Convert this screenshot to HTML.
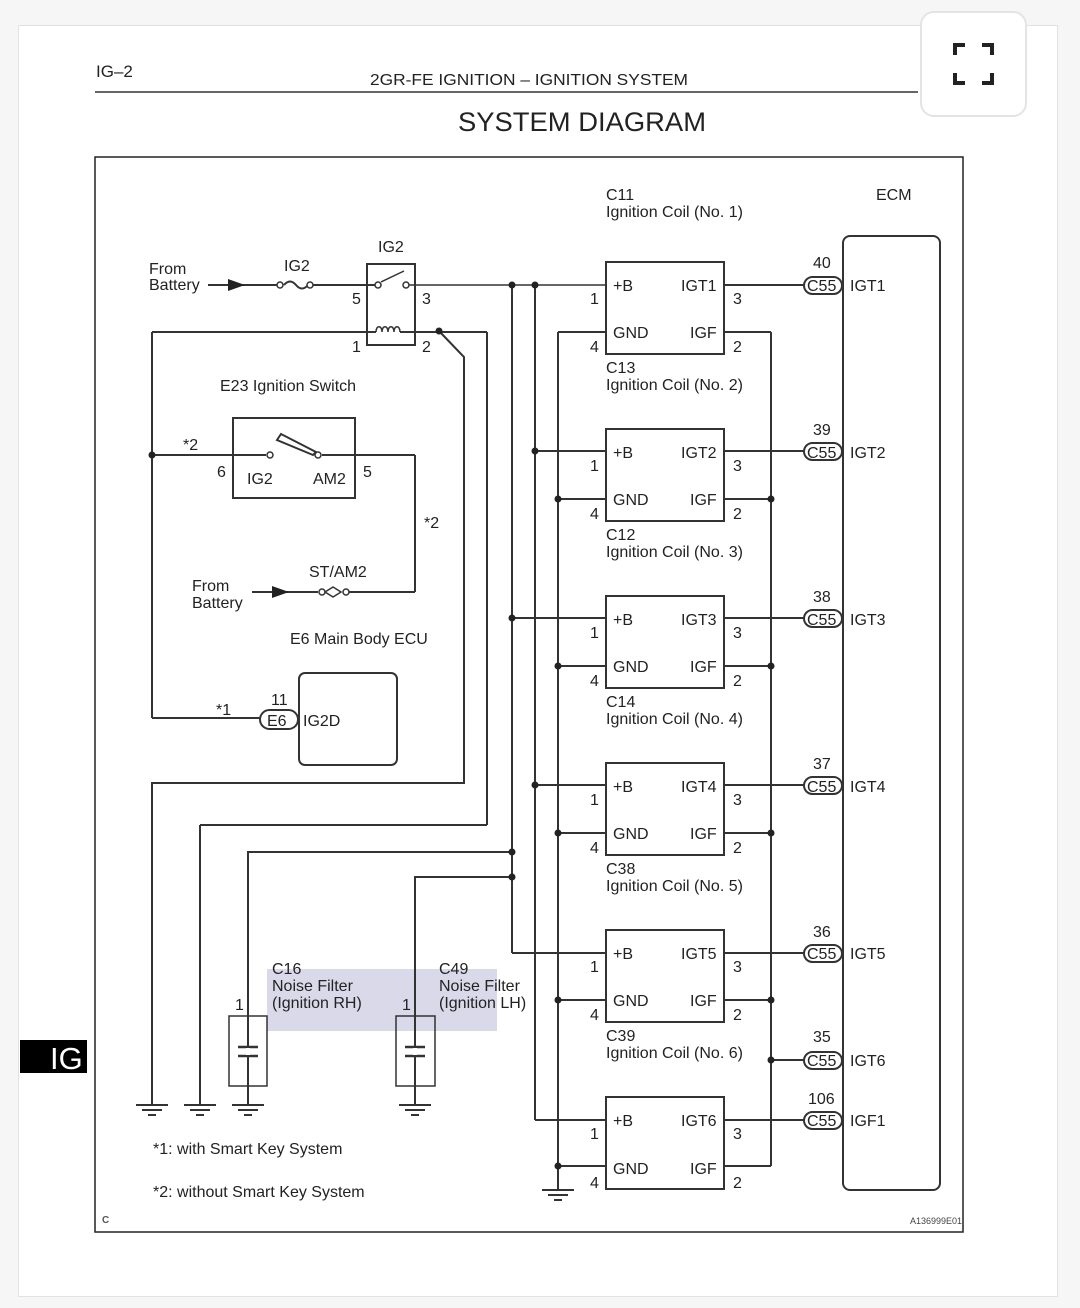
<!DOCTYPE html>
<html><head><meta charset="utf-8"><style>
html,body{margin:0;padding:0;background:#f6f6f7;}
body{width:1080px;height:1308px;position:relative;overflow:hidden;font-family:"Liberation Sans",sans-serif;}
.card{position:absolute;left:18px;top:25px;width:1040px;height:1272px;background:#fff;border:1px solid #e2e2e2;box-sizing:border-box;}
.btn{position:absolute;left:920px;top:11px;width:107px;height:106px;background:#fff;border:2px solid #e4e4e4;border-radius:14px;box-sizing:border-box;}
svg text{font-family:"Liberation Sans",sans-serif;fill:#222;}
</style></head><body>
<div class="card"></div>
<div class="btn"></div>
<svg width="1080" height="1308" style="position:absolute;left:0;top:0">
<g fill="none" stroke="#222" stroke-width="4">
<path d="M955 55V45H965"/><path d="M982 45H992V55"/><path d="M955 73V83H965"/><path d="M982 83H992V73"/>
</g>
<text x="96" y="77" font-size="17">IG–2</text>
<text x="370" y="85" font-size="16" textLength="318" lengthAdjust="spacingAndGlyphs">2GR-FE IGNITION  –  IGNITION SYSTEM</text>
<line x1="95" y1="92" x2="918" y2="92" stroke="#333" stroke-width="1.5"/>
<text x="458" y="131" font-size="27" textLength="248" lengthAdjust="spacingAndGlyphs">SYSTEM DIAGRAM</text>
<rect x="20" y="1040" width="67" height="33" fill="#000"/>
<text x="50" y="1069" font-size="31" style="fill:#fff">IG</text>
<rect x="95" y="157" width="868" height="1075" fill="none" stroke="#222" stroke-width="1.5"/>
<text x="102" y="1223" font-size="10" font-weight="bold" style="fill:#555">C</text>
<text x="910" y="1224" font-size="9" style="fill:#444">A136999E01</text>
<rect x="267" y="969" width="230" height="62" fill="#d9d9ea"/>

<g fill="none" stroke="#333" stroke-width="2">
<line x1="208" y1="285" x2="245" y2="285"/>
<line x1="245" y1="285" x2="277" y2="285"/>
<path d="M284 285q6-7 12 0t12 0" />
<line x1="313" y1="285" x2="375" y2="285"/>
<line x1="409" y1="285" x2="606" y2="285" stroke-width="1.5"/>
<rect x="367" y="264" width="48" height="81"/>
<line x1="381" y1="282" x2="404" y2="271" stroke-width="1.5"/>
<line x1="152" y1="332" x2="376" y2="332"/>
<path d="M376 332c0-7 6-7 6 0c0-7 6-7 6 0c0-7 6-7 6 0c0-7 6-7 6 0" stroke-width="1.5"/>
<line x1="400" y1="332" x2="487" y2="332"/>
<line x1="487" y1="332" x2="487" y2="825"/>
<line x1="487" y1="825" x2="200" y2="825"/>
<line x1="200" y1="825" x2="200" y2="1105"/>
<polyline points="439,331 464,357 464,783 152,783 152,1105"/>
<line x1="152" y1="332" x2="152" y2="718"/>
<line x1="152" y1="718" x2="260" y2="718"/>
<rect x="233" y="418" width="122" height="80"/>
<line x1="152" y1="455" x2="266" y2="455"/>
<line x1="322" y1="455" x2="415" y2="455"/>
<line x1="415" y1="455" x2="415" y2="592"/>
<line x1="415" y1="592" x2="346" y2="592"/>
<line x1="318" y1="592" x2="252" y2="592"/>
<path d="M325 592l8-5l8 5l-8 5z" stroke-width="1.5"/>
<rect x="299" y="673" width="98" height="92" rx="6"/>
<rect x="260" y="710" width="38" height="19" rx="9.5"/>
<line x1="512" y1="285" x2="512" y2="953"/>
<line x1="512" y1="953" x2="606" y2="953"/>
<line x1="535" y1="285" x2="535" y2="1120"/>
<line x1="535" y1="1120" x2="606" y2="1120"/>
<line x1="535" y1="451" x2="606" y2="451"/>
<line x1="512" y1="618" x2="606" y2="618"/>
<line x1="535" y1="785" x2="606" y2="785"/>
<line x1="558" y1="332" x2="558" y2="1190"/>
<line x1="558" y1="332" x2="606" y2="332"/>
<line x1="558" y1="499" x2="606" y2="499"/>
<line x1="558" y1="666" x2="606" y2="666"/>
<line x1="558" y1="833" x2="606" y2="833"/>
<line x1="558" y1="1000" x2="606" y2="1000"/>
<line x1="558" y1="1166" x2="606" y2="1166"/>
<line x1="771" y1="332" x2="771" y2="1166"/>
<line x1="724" y1="332" x2="771" y2="332"/>
<line x1="724" y1="499" x2="771" y2="499"/>
<line x1="724" y1="666" x2="771" y2="666"/>
<line x1="724" y1="833" x2="771" y2="833"/>
<line x1="724" y1="1000" x2="771" y2="1000"/>
<line x1="724" y1="1166" x2="771" y2="1166"/>
<line x1="771" y1="1060" x2="804" y2="1060"/>
<line x1="724" y1="285" x2="804" y2="285"/>
<line x1="724" y1="451" x2="804" y2="451"/>
<line x1="724" y1="618" x2="804" y2="618"/>
<line x1="724" y1="785" x2="804" y2="785"/>
<line x1="724" y1="953" x2="804" y2="953"/>
<line x1="724" y1="1120" x2="804" y2="1120"/>
<polyline points="512,852 248,852 248,1105"/>
<polyline points="512,877 415,877 415,1105"/>
<rect x="229" y="1016" width="38" height="70" stroke-width="1.5"/>
<rect x="396" y="1016" width="39" height="70" stroke-width="1.5"/>
<rect x="606" y="262" width="118" height="92"/>
<rect x="606" y="429" width="118" height="92"/>
<rect x="606" y="596" width="118" height="92"/>
<rect x="606" y="763" width="118" height="92"/>
<rect x="606" y="930" width="118" height="92"/>
<rect x="606" y="1097" width="118" height="92"/>
<rect x="843" y="236" width="97" height="954" rx="7"/>
<rect x="804" y="277" width="38" height="17" rx="8.5"/>
<rect x="804" y="443" width="38" height="17" rx="8.5"/>
<rect x="804" y="610" width="38" height="17" rx="8.5"/>
<rect x="804" y="777" width="38" height="17" rx="8.5"/>
<rect x="804" y="945" width="38" height="17" rx="8.5"/>
<rect x="804" y="1052" width="38" height="17" rx="8.5"/>
<rect x="804" y="1112" width="38" height="17" rx="8.5"/>
</g>
<g stroke="#333" stroke-width="2.5">
<line x1="238" y1="1047" x2="258" y2="1047"/><line x1="238" y1="1056" x2="258" y2="1056"/>
<line x1="405" y1="1047" x2="425" y2="1047"/><line x1="405" y1="1056" x2="425" y2="1056"/>
</g>
<rect x="246" y="1048" width="4" height="7" fill="#fff"/>
<rect x="413" y="1048" width="4" height="7" fill="#fff"/>
<g stroke="#333" stroke-width="2">
<g><line x1="136" y1="1105" x2="168" y2="1105"/><line x1="142" y1="1110" x2="162" y2="1110"/><line x1="148" y1="1115" x2="156" y2="1115"/></g>
<g transform="translate(48 0)"><line x1="136" y1="1105" x2="168" y2="1105"/><line x1="142" y1="1110" x2="162" y2="1110"/><line x1="148" y1="1115" x2="156" y2="1115"/></g>
<g transform="translate(96 0)"><line x1="136" y1="1105" x2="168" y2="1105"/><line x1="142" y1="1110" x2="162" y2="1110"/><line x1="148" y1="1115" x2="156" y2="1115"/></g>
<g transform="translate(263 0)"><line x1="136" y1="1105" x2="168" y2="1105"/><line x1="142" y1="1110" x2="162" y2="1110"/><line x1="148" y1="1115" x2="156" y2="1115"/></g>
<g transform="translate(406 85)"><line x1="136" y1="1105" x2="168" y2="1105"/><line x1="142" y1="1110" x2="162" y2="1110"/><line x1="148" y1="1115" x2="156" y2="1115"/></g>
</g>
<path d="M228 279L245 285L228 291z" fill="#222"/>
<path d="M272 586L289 592L272 598z" fill="#222"/>
<g fill="#fff" stroke="#333" stroke-width="1.5">
<circle cx="280" cy="285" r="3"/><circle cx="310" cy="285" r="3"/>
<circle cx="378" cy="285" r="3"/><circle cx="406" cy="285" r="3"/>
<circle cx="270" cy="455" r="3"/><circle cx="318" cy="455" r="3"/>
<circle cx="322" cy="592" r="3"/><circle cx="346" cy="592" r="3"/>
</g>
<path d="M277 440L281 434L316 452L313 455z" fill="#fff" stroke="#333" stroke-width="2"/>
<g fill="#222">
<circle cx="512" cy="285" r="3.5"/><circle cx="535" cy="285" r="3.5"/>
<circle cx="439" cy="331" r="3.5"/><circle cx="152" cy="455" r="3.5"/>
<circle cx="535" cy="451" r="3.5"/><circle cx="512" cy="618" r="3.5"/><circle cx="535" cy="785" r="3.5"/>
<circle cx="512" cy="852" r="3.5"/><circle cx="512" cy="877" r="3.5"/>
<circle cx="558" cy="499" r="3.5"/><circle cx="558" cy="666" r="3.5"/><circle cx="558" cy="833" r="3.5"/><circle cx="558" cy="1000" r="3.5"/><circle cx="558" cy="1166" r="3.5"/>
<circle cx="771" cy="499" r="3.5"/><circle cx="771" cy="666" r="3.5"/><circle cx="771" cy="833" r="3.5"/><circle cx="771" cy="1000" r="3.5"/><circle cx="771" cy="1060" r="3.5"/>
</g>
<g font-size="16">
<text x="149" y="274">From</text><text x="149" y="290">Battery</text>
<text x="284" y="271">IG2</text>
<text x="378" y="252">IG2</text>
<text x="352" y="304">5</text><text x="422" y="304">3</text>
<text x="352" y="352">1</text><text x="422" y="352">2</text>
<text x="220" y="391">E23 Ignition Switch</text>
<text x="183" y="450">*2</text>
<text x="217" y="477">6</text><text x="363" y="477">5</text>
<text x="247" y="484">IG2</text><text x="313" y="484">AM2</text>
<text x="424" y="528">*2</text>
<text x="309" y="577">ST/AM2</text>
<text x="192" y="591">From</text><text x="192" y="608">Battery</text>
<text x="290" y="644">E6 Main Body ECU</text>
<text x="271" y="705">11</text>
<text x="216" y="715">*1</text>
<text x="267" y="726">E6</text>
<text x="303" y="726">IG2D</text>
<text x="606" y="200">C11</text><text x="606" y="217">Ignition Coil (No. 1)</text>
<text x="876" y="200">ECM</text>
<text x="153" y="1154">*1: with Smart Key System</text>
<text x="153" y="1197">*2: without Smart Key System</text>
<text x="272" y="974">C16</text><text x="272" y="991">Noise Filter</text><text x="272" y="1008">(Ignition RH)</text>
<text x="439" y="974">C49</text><text x="439" y="991">Noise Filter</text><text x="439" y="1008">(Ignition LH)</text>
<text x="235" y="1010">1</text><text x="402" y="1010">1</text>
</g>
<g font-size="16">
<text x="613" y="291">+B</text><text x="681" y="291">IGT1</text><text x="613" y="338">GND</text><text x="690" y="338">IGF</text>
<text x="590" y="304">1</text><text x="590" y="352">4</text><text x="733" y="304">3</text><text x="733" y="352">2</text>
<text x="606" y="373">C13</text><text x="606" y="390">Ignition Coil (No. 2)</text>
<text x="613" y="458">+B</text><text x="681" y="458">IGT2</text><text x="613" y="505">GND</text><text x="690" y="505">IGF</text>
<text x="590" y="471">1</text><text x="590" y="519">4</text><text x="733" y="471">3</text><text x="733" y="519">2</text>
<text x="606" y="540">C12</text><text x="606" y="557">Ignition Coil (No. 3)</text>
<text x="613" y="625">+B</text><text x="681" y="625">IGT3</text><text x="613" y="672">GND</text><text x="690" y="672">IGF</text>
<text x="590" y="638">1</text><text x="590" y="686">4</text><text x="733" y="638">3</text><text x="733" y="686">2</text>
<text x="606" y="707">C14</text><text x="606" y="724">Ignition Coil (No. 4)</text>
<text x="613" y="792">+B</text><text x="681" y="792">IGT4</text><text x="613" y="839">GND</text><text x="690" y="839">IGF</text>
<text x="590" y="805">1</text><text x="590" y="853">4</text><text x="733" y="805">3</text><text x="733" y="853">2</text>
<text x="606" y="874">C38</text><text x="606" y="891">Ignition Coil (No. 5)</text>
<text x="613" y="959">+B</text><text x="681" y="959">IGT5</text><text x="613" y="1006">GND</text><text x="690" y="1006">IGF</text>
<text x="590" y="972">1</text><text x="590" y="1020">4</text><text x="733" y="972">3</text><text x="733" y="1020">2</text>
<text x="606" y="1041">C39</text><text x="606" y="1058">Ignition Coil (No. 6)</text>
<text x="613" y="1126">+B</text><text x="681" y="1126">IGT6</text><text x="613" y="1174">GND</text><text x="690" y="1174">IGF</text>
<text x="590" y="1139">1</text><text x="590" y="1188">4</text><text x="733" y="1139">3</text><text x="733" y="1188">2</text>
<text x="813" y="268">40</text><text x="807" y="291">C55</text><text x="850" y="291">IGT1</text>
<text x="813" y="435">39</text><text x="807" y="458">C55</text><text x="850" y="458">IGT2</text>
<text x="813" y="602">38</text><text x="807" y="625">C55</text><text x="850" y="625">IGT3</text>
<text x="813" y="769">37</text><text x="807" y="792">C55</text><text x="850" y="792">IGT4</text>
<text x="813" y="937">36</text><text x="807" y="959">C55</text><text x="850" y="959">IGT5</text>
<text x="813" y="1042">35</text><text x="807" y="1066">C55</text><text x="850" y="1066">IGT6</text>
<text x="808" y="1104">106</text><text x="807" y="1126">C55</text><text x="850" y="1126">IGF1</text>
</g>
</svg>
</body></html>
